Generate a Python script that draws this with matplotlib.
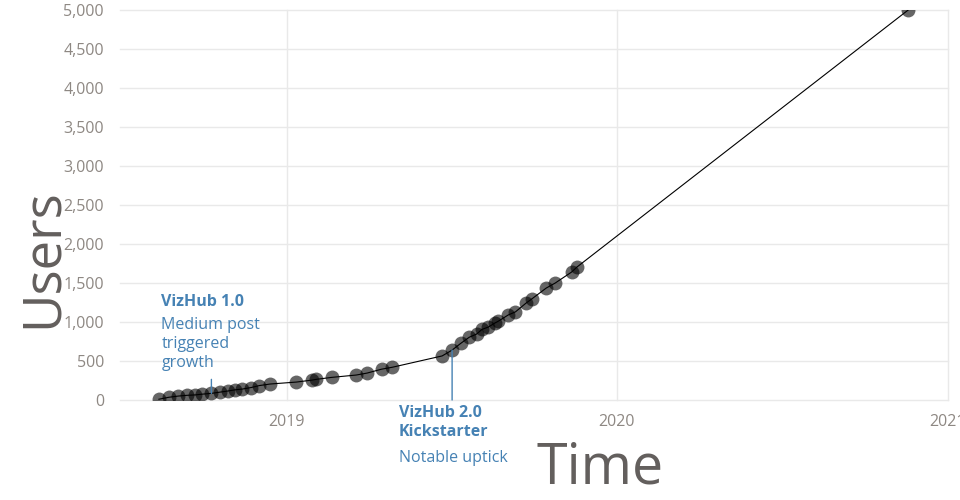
import matplotlib.pyplot as plt
import matplotlib.dates as mdates
import numpy as np

# Data
dates = [
    "2018-08-13", "2018-08-24", "2018-09-03", "2018-09-13", "2018-09-22",
    "2018-09-30", "2018-10-10", "2018-10-19", "2018-10-28", "2018-11-05",
    "2018-11-13", "2018-11-23", "2018-12-02", "2018-12-14", "2019-01-12",
    "2019-01-29", "2019-02-03", "2019-02-20", "2019-03-19", "2019-03-31",
    "2019-04-16", "2019-04-28", "2019-06-22", "2019-07-03", "2019-07-13",
    "2019-07-22", "2019-07-30", "2019-08-05", "2019-08-12", "2019-08-19",
    "2019-08-23", "2019-09-03", "2019-09-11", "2019-09-23", "2019-09-29",
    "2019-10-15", "2019-10-25", "2019-11-12", "2019-11-18", "2020-11-18",
]
users = [
    10, 35, 50, 60, 65,
    75, 85, 100, 115, 130,
    140, 160, 185, 205, 230,
    255, 265, 290, 320, 345,
    395, 420, 565, 640, 730,
    805, 845, 905, 935, 985,
    1010, 1090, 1130, 1245, 1295,
    1435, 1500, 1640, 1705, 5000,
]

annotation_dates = ["2018-10-10", "2019-07-03"]
annotation_values = [85, 640]
annotation_titles = [["VizHub 1.0"], ["VizHub 2.0", "Kickstarter"]]
annotation_labels = [["Medium post", "triggered", "growth"], ["Notable uptick"]]

x = np.array(dates, dtype="datetime64[D]")
y = np.array(users)

TEXT_GRAY = "#8e8883"
LABEL_GRAY = "#635f5d"
NOTE_BLUE = "#4682b4"
GRID = "#e9e9e9"

plt.rcParams["font.family"] = ["Open Sans", "DejaVu Sans"]

fig = plt.figure(figsize=(9.6, 5), dpi=100)
ax = fig.add_axes([0.125, 0.2, 0.8625, 0.78])

ax.plot(x, y, "o", markersize=10, markeredgewidth=0,
        color="black", alpha=0.6, zorder=2)
ax.plot(x, y, color="black", linewidth=0.8, zorder=3)

# Axes limits
ax.set_xlim(np.datetime64("2018-07-01"), np.datetime64("2021-01-01"))
ax.set_ylim(0, 5000)
ax.set_yticks(range(0, 5001, 500))
ax.yaxis.set_major_formatter(plt.FuncFormatter(lambda v, p: f"{int(v):,}"))
ax.xaxis.set_major_locator(mdates.YearLocator())
ax.xaxis.set_major_formatter(mdates.DateFormatter("%Y"))

# Grid, no spines
ax.grid(True, color=GRID, linewidth=1)
ax.set_axisbelow(True)
for spine in ax.spines.values():
    spine.set_visible(False)
for gl in ax.get_xgridlines() + ax.get_ygridlines():
    gl.set_clip_on(False)
ax.tick_params(axis="both", length=0, labelsize=11.5, labelcolor=TEXT_GRAY)
ax.tick_params(axis="y", pad=11.5)
ax.tick_params(axis="x", pad=10)

# Axis labels
ax.set_xlabel("Time", fontsize=40, color=LABEL_GRAY, va="baseline")
ax.xaxis.set_label_coords(0.58, -0.213)
ax.set_ylabel("Users", fontsize=38, color=LABEL_GRAY, va="baseline")
ax.yaxis.set_label_coords(-0.076, 0.364)

# Annotations: connector, bold title lines, body lines
note_style = dict(textcoords="offset pixels", color=NOTE_BLUE,
                  fontsize=11.5, ha="left", va="baseline")

d0 = np.datetime64(annotation_dates[0])
ax.annotate("", xy=(d0, annotation_values[0]), xytext=(0, 14),
            textcoords="offset pixels",
            arrowprops=dict(arrowstyle="-", color=NOTE_BLUE, lw=1,
                            shrinkA=0, shrinkB=0))
for i, line in enumerate(annotation_titles[0]):
    ax.annotate(line, xy=(d0, annotation_values[0]), xytext=(-50, 87 - 19 * i),
                fontweight="bold", **note_style)
for i, line in enumerate(annotation_labels[0]):
    ax.annotate(line, xy=(d0, annotation_values[0]), xytext=(-50, 64 - 19 * i),
                **note_style)

d1 = np.datetime64(annotation_dates[1])
ax.annotate("", xy=(d1, annotation_values[1]), xytext=(d1, 0),
            arrowprops=dict(arrowstyle="-", color=NOTE_BLUE, lw=1,
                            shrinkA=0, shrinkB=0))
for i, line in enumerate(annotation_titles[1]):
    ax.annotate(line, xy=(d1, annotation_values[1]), xytext=(-53, -67 - 19 * i),
                fontweight="bold", **note_style)
for i, line in enumerate(annotation_labels[1]):
    ax.annotate(line, xy=(d1, annotation_values[1]), xytext=(-53, -112 - 19 * i),
                **note_style)

fig.savefig("out.png", dpi=100)
